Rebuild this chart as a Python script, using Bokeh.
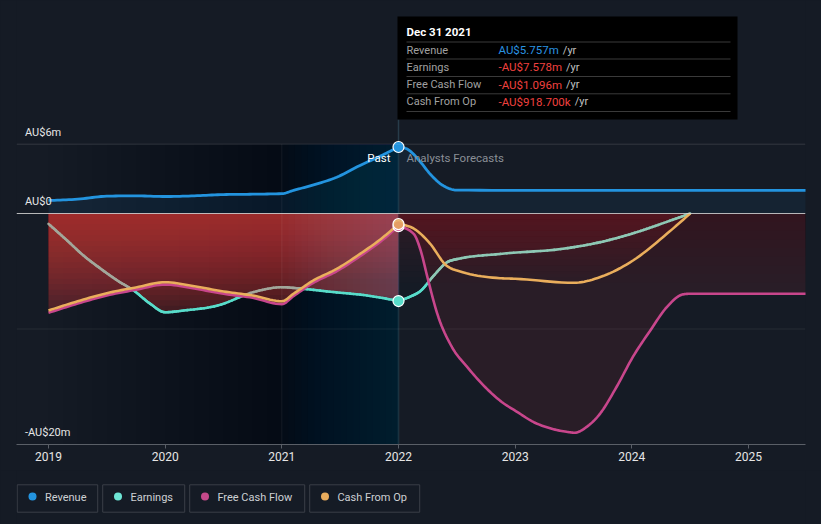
import numpy as np
from bokeh.plotting import figure
from bokeh.layouts import column
from bokeh.models import Range1d, Span, FixedTicker, GlobalInlineStyleSheet
from bokeh.embed import file_html
from bokeh.resources import INLINE
from bokeh.core.properties import value

# ---------------- data (AU$ millions, x = fractional year) ----------------
rev_t = [2019.0, 2019.25, 2019.5, 2019.75, 2020.0, 2020.25, 2020.5, 2020.75, 2021.0, 2021.1, 2021.25,
         2021.47, 2021.67, 2021.85, 2022.0, 2022.07, 2022.19, 2022.27, 2022.36, 2022.42, 2022.5,
         2023.5, 2024.5, 2025.5]
rev_v = [1.13, 1.24, 1.50, 1.53, 1.47, 1.53, 1.64, 1.67, 1.72, 2.0, 2.42,
         3.14, 4.16, 5.0, 5.757, 5.6, 4.44, 3.43, 2.57, 2.22, 2.02,
         2.0, 2.0, 2.0]

earn_t = [2019.0, 2019.16, 2019.3, 2019.45, 2019.59, 2019.73, 2019.87, 2020.0, 2020.16, 2020.45,
          2020.76, 2021.0, 2021.16, 2021.44, 2021.73, 2022.0, 2022.1, 2022.19, 2022.3, 2022.42,
          2022.5, 2022.87, 2023.45, 2023.73, 2024.0, 2024.25, 2024.5]
earn_v = [-0.9, -2.34, -3.64, -4.8, -5.8, -6.67, -7.8, -8.55, -8.4, -7.97,
          -6.8, -6.38, -6.5, -6.8, -7.1, -7.578, -7.2, -6.7, -5.4, -4.2,
          -3.95, -3.5, -3.0, -2.48, -1.75, -0.9, 0.0]

cfo_t = [2019.0, 2019.25, 2019.5, 2019.75, 2020.0, 2020.25, 2020.5, 2020.75, 2021.0, 2021.1,
         2021.27, 2021.47, 2021.67, 2021.85, 2022.0, 2022.13, 2022.27, 2022.41, 2022.55, 2022.87,
         2023.0, 2023.5, 2023.73, 2024.01, 2024.3, 2024.5]
cfo_v = [-8.4, -7.6, -6.9, -6.4, -5.95, -6.3, -6.75, -7.1, -7.6, -6.95,
         -5.8, -4.8, -3.5, -2.2, -0.9187, -1.3, -2.6, -4.5, -5.08, -5.6,
         -5.65, -6.0, -5.5, -4.07, -1.76, 0.0]

fcf_t = [2019.0, 2019.25, 2019.5, 2019.75, 2020.0, 2020.25, 2020.5, 2020.75, 2021.0, 2021.1,
         2021.27, 2021.47, 2021.67, 2021.85, 2022.0, 2022.13, 2022.19, 2022.25, 2022.33, 2022.46,
         2022.59, 2022.73, 2022.87, 2023.02, 2023.16, 2023.3, 2023.44, 2023.51, 2023.61, 2023.73,
         2023.87, 2024.01, 2024.16, 2024.3, 2024.44, 2024.5, 2025.5]
fcf_v = [-8.6, -7.8, -7.1, -6.6, -6.15, -6.5, -6.95, -7.3, -7.85, -7.15,
         -6.0, -5.0, -3.7, -2.4, -1.096, -1.76, -3.2, -5.6, -8.6, -11.6,
         -13.3, -14.9, -16.2, -17.2, -18.07, -18.6, -18.9, -18.98, -18.5, -17.3,
         -15.0, -12.4, -10.1, -8.1, -7.0, -6.95, -6.95]

year_ticks = [2019, 2020, 2021, 2022, 2023, 2024, 2025]
year_labels = ["2019", "2020", "2021", "2022", "2023", "2024", "2025"]
y_ticks = [6, 0, -20]
y_labels = ["AU$6m", "AU$0", "-AU$20m"]
grid_vals = [6, -10]

past_start, past_end = 2021.0, 2022.0
hover_t = 2022.0
tip_date = "Dec 31 2021"
tip_names = ["Revenue", "Earnings", "Free Cash Flow", "Cash From Op"]
tip_vals = ["AU$5.757m", "-AU$7.578m", "-AU$1.096m", "-AU$918.700k"]
hover_vals = [5.757, -7.578, -1.096, -0.9187]

legend_names = ["Revenue", "Earnings", "Free Cash Flow", "Cash From Op"]

# ---------------- style ----------------
BG = "#151b25"
C_REV = "#2394df"
C_EARN = "#58dcca"
C_FCF = "#c8468c"
C_CFO = "#eaae5c"
FONT = "Roboto"

PPX = 700 / 6.0
PPY = 231 / 20.0
X_START = 2019 - 32 / PPX
X_END = 2019 + 757 / PPX
Y_START = -20.0
Y_END = -20.0 + 444 / PPY


def px2x(px):
    return 2019 + (px - 48) / PPX


def py2y(py):
    return (213 - py) / PPY


def monotone(t, v, n=10):
    """Monotone cubic (d3 curveMonotoneX style) drawing path through the points."""
    x = np.asarray(t, float)
    y = np.asarray(v, float)
    h = np.diff(x)
    s = np.diff(y) / h
    m = np.zeros_like(y)
    for i in range(1, len(x) - 1):
        if s[i - 1] * s[i] <= 0:
            m[i] = 0.0
        else:
            pp = (s[i - 1] * h[i] + s[i] * h[i - 1]) / (h[i - 1] + h[i])
            m[i] = (np.sign(s[i - 1]) + np.sign(s[i])) * min(abs(s[i - 1]), abs(s[i]), 0.5 * abs(pp))
    if len(x) > 2:
        m[0] = (3 * s[0] - m[1]) / 2
        m[-1] = (3 * s[-1] - m[-2]) / 2
    else:
        m[0] = m[-1] = s[0]
    xs, ys = [x[0]], [y[0]]
    for i in range(len(x) - 1):
        u = np.linspace(0, 1, n + 1)[1:]
        h00 = 2 * u ** 3 - 3 * u ** 2 + 1
        h10 = u ** 3 - 2 * u ** 2 + u
        h01 = -2 * u ** 3 + 3 * u ** 2
        h11 = u ** 3 - u ** 2
        xs.extend(x[i] + u * h[i])
        ys.extend(h00 * y[i] + h10 * h[i] * m[i] + h01 * y[i + 1] + h11 * h[i] * m[i + 1])
    return np.array(xs), np.array(ys)


def split(t, v):
    """Smooth path split into past (<= past_end) and forecast (>= past_end) parts."""
    t = np.asarray(t, float)
    v = np.asarray(v, float)
    mp = t <= past_end + 1e-9
    mf = t >= past_end - 1e-9
    return monotone(t[mp], v[mp]), monotone(t[mf], v[mf])


p = figure(width=821, height=470, x_range=Range1d(X_START, X_END), y_range=Range1d(Y_START, Y_END),
           output_backend="svg", toolbar_location=None, y_axis_type=None,
           min_border_left=16, min_border_right=16, min_border_top=0, min_border_bottom=26,
           background_fill_color=BG, border_fill_color=BG, outline_line_color=None)
p.xgrid.visible = False

# dark past background gradient (2019 -> 2021), constant to 2022
N = 16
lefts = [2019 + (past_start - 2019) * j / N for j in range(N)]
a_dark = 1 - (1 - 0.22) ** (1.0 / N)
p.quad(left=lefts, right=[past_end] * N, top=[6] * N, bottom=[-20] * N,
       fill_color="#000000", fill_alpha=a_dark, line_alpha=0)

(rpx, rpy), (rfx, rfy) = split(rev_t, rev_v)
(epx, epy), (efx, efy) = split(earn_t, earn_v)
(cpx, cpy), (cfx, cfy) = split(cfo_t, cfo_v)
(fpx, fpy), (ffx, ffy) = split(fcf_t, fcf_v)

# revenue fill
p.varea(x=rpx, y1=0, y2=rpy, fill_color=C_REV, fill_alpha=0.10)
p.varea(x=rfx, y1=0, y2=rfy, fill_color=C_REV, fill_alpha=0.07)

# past negative fill: envelope of all negative series, vertical gradient by depth
tp = np.unique(np.concatenate([epx, cpx, fpx]))
env = np.min([np.interp(tp, epx, epy), np.interp(tp, cpx, cpy), np.interp(tp, fpx, fpy)], axis=0)
K = 22
a_p = 1 - (1 - 0.80) ** (1.0 / K)
for k in range(1, K + 1):
    p.varea(x=tp, y1=0, y2=np.maximum(env, -0.47 * k), fill_color="#c8353d", fill_alpha=a_p)

# forecast fills per series
p.varea(x=ffx, y1=0, y2=ffy, fill_color="#c0343c", fill_alpha=0.12)
for k in range(1, 9):
    p.varea(x=ffx, y1=0, y2=np.maximum(ffy, -0.75 * k), fill_color="#c0343c", fill_alpha=0.0075)
for (tx, vy) in ((efx, efy), (cfx, cfy)):
    for k in range(1, 13):
        p.varea(x=tx, y1=0, y2=np.maximum(vy, -0.5 * k), fill_color="#c0343c", fill_alpha=0.015)

# past highlight overlay (2021 -> 2022)
NH = 18


def cum_alpha(total):
    return 1 - (1 - total) ** (1.0 / NH)


for j in range(NH):
    xa = past_start + (past_end - past_start) * j / NH
    xs = np.concatenate([[xa], tp[(tp > xa) & (tp <= past_end)]])
    es = np.interp(xs, tp, env)
    p.varea(x=xs, y1=0, y2=6, fill_color="#0d4d6d", fill_alpha=cum_alpha(0.40))
    p.varea(x=xs, y1=0, y2=es, fill_color="#8aa3b6", fill_alpha=cum_alpha(0.32))
    p.varea(x=xs, y1=es, y2=-20, fill_color="#0b3f55", fill_alpha=cum_alpha(0.42))

# grid lines
for g in grid_vals:
    p.add_layout(Span(location=g, dimension="width", line_color="#ffffff",
                      line_alpha=0.13 if g > 0 else 0.07, line_width=1))
p.add_layout(Span(location=0, dimension="width", line_color="#d4d4d4", line_alpha=0.85, line_width=1))
p.segment(x0=[past_start], y0=[-20], x1=[past_start], y1=[6], line_color="#ffffff", line_alpha=0.07, line_width=1)
p.segment(x0=[hover_t], y0=[-20], x1=[hover_t], y1=[py2y(119)], line_color="#4a7a90", line_alpha=0.35,
          line_width=1.5)

# earnings line, tinted where covered by a lower series' fill
ex = np.concatenate([epx, efx[1:]])
ey = np.concatenate([epy, efy[1:]])
cx_all = np.concatenate([cpx, cfx[1:]])
cy_all = np.concatenate([cpy, cfy[1:]])
fx_all = np.concatenate([fpx, ffx[1:]])
fy_all = np.concatenate([fpy, ffy[1:]])
cols = []
for i in range(len(ex) - 1):
    mid = 0.5 * (ex[i] + ex[i + 1])
    emid = 0.5 * (ey[i] + ey[i + 1])
    lo = min(np.interp(mid, cx_all, cy_all), np.interp(mid, fx_all, fy_all))
    if lo < emid - 0.15:
        cols.append("#a2a79b" if mid < past_end else "#8ec8b5")
    else:
        cols.append(C_EARN)
p.segment(x0=ex[:-1], y0=ey[:-1], x1=ex[1:], y1=ey[1:], line_color=cols, line_width=2.6, line_cap="round")

p.line(fx_all, fy_all, line_color=C_FCF, line_width=2.6, line_join="round")
p.line(cx_all, cy_all, line_color=C_CFO, line_width=2.6, line_join="round")
p.line(np.concatenate([rpx, rfx[1:]]), np.concatenate([rpy, rfy[1:]]), line_color=C_REV, line_width=2.8,
       line_join="round")

# hover markers
p.scatter([hover_t], [hover_vals[2]], size=11, fill_color=C_FCF, line_color="#ffffff", line_width=1.2)
p.scatter([hover_t], [hover_vals[3]], size=11, fill_color=C_CFO, line_color="#ffffff", line_width=1.2,
          fill_alpha=0.85)
p.scatter([hover_t], [hover_vals[1]], size=11, fill_color=C_EARN, line_color="#ffffff", line_width=1.2)
p.scatter([hover_t], [hover_vals[0]], size=11, fill_color=C_REV, line_color="#ffffff", line_width=1.2)

# y labels inside plot
p.text(x=[X_START] * len(y_ticks), y=y_ticks, text=y_labels, x_offset=8.5, y_offset=-12,
       text_font=value(FONT), text_font_size="11px", text_color="#e6e6e6", text_baseline="middle")

# Past / Analysts Forecasts
p.text(x=[hover_t], y=[py2y(157)], text=["Past"], x_offset=-8, text_align="right", text_baseline="middle",
       text_font=value(FONT), text_font_size="11.5px", text_color="#ffffff")
p.text(x=[hover_t], y=[py2y(157)], text=["Analysts Forecasts"], x_offset=8, text_align="left",
       text_baseline="middle", text_font=value(FONT), text_font_size="11.5px", text_color="#8a8f96")

# tooltip
p.quad(left=[px2x(397)], right=[px2x(737)], top=[py2y(16)], bottom=[py2y(119)],
       fill_color="#000000", fill_alpha=1.0, line_alpha=0)
p.text(x=[px2x(406)], y=[py2y(31.5)], text=[tip_date], text_font=value(FONT), text_font_size="11.5px",
       text_font_style="bold", text_color="#ffffff", text_baseline="middle")
sep_y = [py2y(v) for v in (41.5, 58.5, 76, 93.3, 111)]
p.segment(x0=[px2x(406)] * 5, y0=sep_y, x1=[px2x(730)] * 5, y1=sep_y, line_color="#3a3a3a", line_width=1)
row_y = [py2y(v) for v in (49.5, 66.5, 84, 101)]
p.text(x=[px2x(406)] * 4, y=row_y, text=tip_names, text_font=value(FONT), text_font_size="11px",
       text_color="#a0a0a0", text_baseline="middle")
val_cols = ["#2a93e0", "#f0403f", "#f0403f", "#f0403f"]
p.text(x=[px2x(498)] * 4, y=row_y, text=tip_vals, text_font=value(FONT), text_font_size="11.5px",
       text_color=val_cols, text_baseline="middle")
EM = {"A": .652, "U": .648, "$": .562, ".": .263, "m": .876, "-": .276, "k": .507}


def tw(s, fs=11.5):
    return sum(EM.get(c, .562) for c in s) * fs


for yv, s in zip(row_y, tip_vals):
    p.text(x=[px2x(498)], y=[yv], text=["/yr"], x_offset=tw(s) + 4, text_font=value(FONT),
           text_font_size="11px", text_color="#c0c0c0", text_baseline="middle")

# x axis
ax = p.xaxis[0]
ax.ticker = FixedTicker(ticks=year_ticks)
ax.major_label_overrides = {t: s for t, s in zip(year_ticks, year_labels)}
ax.axis_line_color = "#5a5f67"
ax.major_tick_line_color = "#5a5f67"
ax.major_tick_out = 4
ax.major_tick_in = 0
ax.minor_tick_line_color = None
ax.major_label_standoff = 3
ax.major_label_text_font = FONT
ax.major_label_text_font_size = "12px"
ax.major_label_text_color = "#e6e6e6"

# ---------------- legend strip (frame aligned with the chart frame: x = page px) ----------------
lg = figure(width=821, height=54, x_range=Range1d(16, 805), y_range=Range1d(54, 0),
            output_backend="svg", toolbar_location=None, x_axis_type=None, y_axis_type=None,
            min_border_left=16, min_border_right=16, min_border_top=0, min_border_bottom=0,
            background_fill_color=BG, border_fill_color=BG, outline_line_color=None)
lg.xgrid.visible = False
lg.ygrid.visible = False
box_w = [80.5, 82, 115, 110]
gap = 5
lefts_l = []
x = 16.7
for w in box_w:
    lefts_l.append(x)
    x += w + gap
rights_l = [l + w for l, w in zip(lefts_l, box_w)]
lg.quad(left=lefts_l, right=rights_l, top=[14.3] * 4, bottom=[41.7] * 4,
        fill_color=BG, line_color="#3a3f48", line_width=1)
lg.scatter([l + 15.3 for l in lefts_l], [26] * 4, size=8,
           fill_color=[C_REV, "#6ee6d5", "#c4498a", "#e8ab5c"], line_alpha=0)
lg.text(x=[l + 27.7 for l in lefts_l], y=[26.5] * 4, text=legend_names, text_font=value(FONT),
        text_font_size="11px", text_color="#cdd0d4", text_baseline="middle")

layout = column(p, lg, spacing=0)
layout.stylesheets = [GlobalInlineStyleSheet(css="body { background: #151b25; margin: 0; }")]

open("out.html", "w").write(file_html(layout, INLINE))
